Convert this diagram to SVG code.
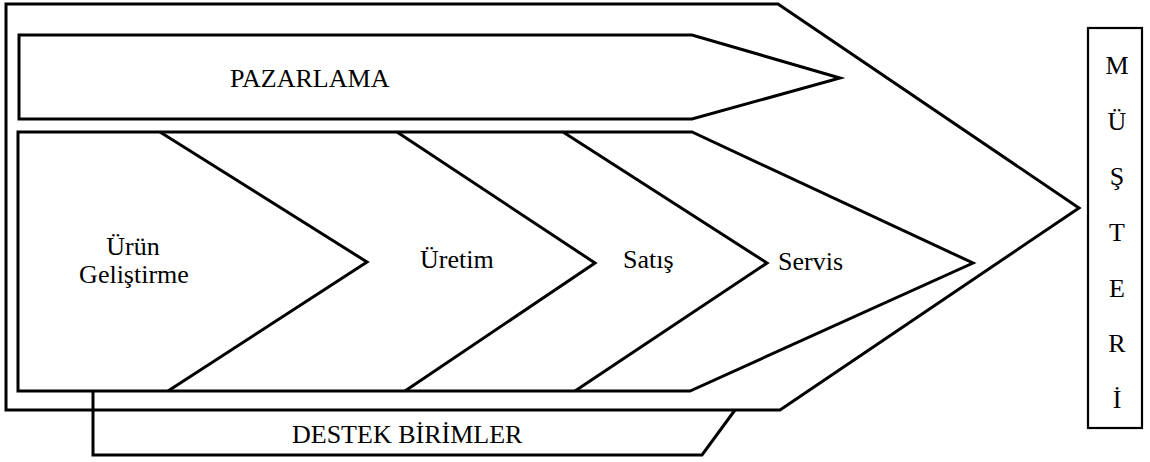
<svg xmlns="http://www.w3.org/2000/svg" width="1150" height="462" viewBox="0 0 1150 462">
  <style>
    .shape { fill: none; stroke: #000; stroke-width: 3; stroke-linejoin: miter; }
    .thin { fill: none; stroke: #000; stroke-width: 2.2; }
    .label { font-size: 26px; fill: #000; }
    .mid { text-anchor: middle; }
  </style>
  <rect width="1150" height="462" fill="#fff"/>

  <!-- outer arrow wrapping the whole value chain -->
  <g id="outer-arrow">
    <path class="shape" d="M6,4 H778 L1079,208 L780,410 H6 Z"/>
  </g>

  <g font-family="'Liberation Serif', 'DejaVu Serif', 'Times New Roman', serif">
    <!-- marketing band -->
    <g id="pazarlama">
      <path class="shape" d="M19,35 H692 L840,78 L692,119 H19 Z"/>
      <text class="label" x="230" y="87">PAZARLAMA</text>
    </g>

    <!-- main activity row -->
    <g id="activity-row">
      <path class="shape" d="M18,132 H692 L973,263 L690,391 H18 Z"/>
    </g>

    <g id="connectors">
      <polyline class="shape" points="160,132 367,262 168,391"/>
      <polyline class="shape" points="397,132 595,263 405,391"/>
      <polyline class="shape" points="563,132 767,263 575,391"/>
    </g>

    <g id="urun-gelistirme">
      <text class="label mid" x="133" y="255">Ürün</text>
      <text class="label mid" x="134" y="283">Geliştirme</text>
    </g>
    <g id="uretim">
      <text class="label" x="420" y="268">Üretim</text>
    </g>
    <g id="satis">
      <text class="label" x="623" y="268">Satış</text>
    </g>
    <g id="servis">
      <text class="label" x="778" y="270">Servis</text>
    </g>

    <!-- support units -->
    <g id="destek-birimler">
      <polyline class="shape" points="93,391 93,455 702,455 735,410"/>
      <text class="label" x="292" y="443">DESTEK BİRİMLER</text>
    </g>

    <!-- customer column, one letter per line -->
    <g id="musteri">
      <rect class="thin" x="1088" y="28" width="54" height="400"/>
      <text class="label mid" x="1117" y="74">M</text>
      <text class="label mid" x="1117" y="130">Ü</text>
      <text class="label mid" x="1117" y="185">Ş</text>
      <text class="label mid" x="1117" y="241">T</text>
      <text class="label mid" x="1117" y="297">E</text>
      <text class="label mid" x="1117" y="352">R</text>
      <text class="label mid" x="1117" y="408">İ</text>
    </g>
  </g>
</svg>
